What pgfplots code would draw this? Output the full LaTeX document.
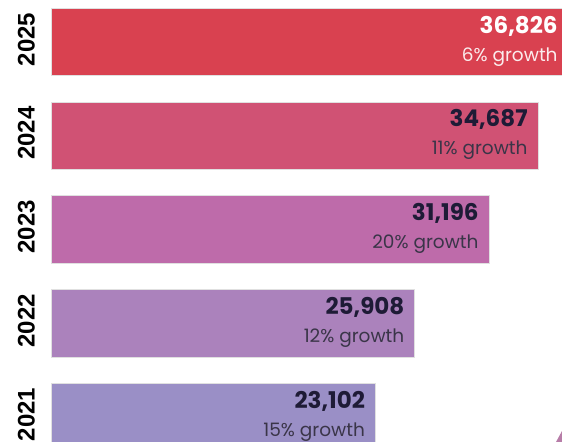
\documentclass[border=0pt]{standalone}
\usepackage{fontspec}
\setmainfont{Poppins}
\newfontfamily\yearfont{Liberation Sans}
\usepackage{pgfplots}
\pgfplotsset{compat=1.18}
\definecolor{cA}{HTML}{D94150}
\definecolor{cB}{HTML}{D05274}
\definecolor{cC}{HTML}{BE6BAA}
\definecolor{cD}{HTML}{AB82BC}
\definecolor{cE}{HTML}{9A8FC6}
\definecolor{txtdark}{HTML}{1E1B36}
\definecolor{txtgrow}{HTML}{3A3548}
\definecolor{deco}{HTML}{B77DA8}
\newcommand{\valfont}{\fontsize{23bp}{28bp}\selectfont\bfseries}
\newcommand{\growfont}{\fontsize{18.5bp}{28bp}\selectfont}
\begin{document}
\begin{tikzpicture}[x=1bp,y=1bp]
\begin{axis}[
  at={(51bp,0bp)}, anchor=south west,
  scale only axis, width=511bp, height=442bp,
  xmin=0, xmax=36400, ymin=-0.2667, ymax=4.448,
  clip=false,
  axis line style={draw=none},
  xtick=\empty,
  ytick={0,1,2,3,4},
  yticklabels={2021,2022,2023,2024,2025},
  major tick length=0pt,
  yticklabel style={rotate=90, xshift=2.5bp, anchor=south, inner sep=0pt, font=\yearfont\fontsize{24bp}{28bp}\selectfont\bfseries, text=black},
  yticklabel shift={16bp},
  xbar, bar width=0.72,
  /pgf/number format/1000 sep={,},
  /pgf/number format/assume math mode=true,
  every node near coord/.style={anchor=east, xshift=-10bp, yshift=1bp, align=right, inner sep=0pt, text=txtdark, font=\fontsize{18.5bp}{28bp}\selectfont},
]
\addplot[bar shift=0pt, fill=cE, draw=black!12, line width=0.8bp,
  nodes near coords={{\valfont\pgfmathprintnumber{\pgfplotspointmeta}}\\{\growfont\color{txtgrow}15\% growth}}]
  coordinates {(23102,0)};
\addplot[bar shift=0pt, fill=cD, draw=black!12, line width=0.8bp,
  nodes near coords={{\valfont\pgfmathprintnumber{\pgfplotspointmeta}}\\{\growfont\color{txtgrow}12\% growth}}]
  coordinates {(25908,1)};
\addplot[bar shift=0pt, fill=cC, draw=black!12, line width=0.8bp,
  nodes near coords={{\valfont\pgfmathprintnumber{\pgfplotspointmeta}}\\{\growfont\color{txtgrow}20\% growth}}]
  coordinates {(31196,2)};
\addplot[bar shift=0pt, fill=cB, draw=black!12, line width=0.8bp,
  nodes near coords={{\valfont\pgfmathprintnumber{\pgfplotspointmeta}}\\{\growfont\color{txtgrow}11\% growth}}]
  coordinates {(34687,3)};
\addplot[bar shift=0pt, fill=cA, draw=black!12, line width=0.8bp,
  nodes near coords={{\valfont\color{white}\pgfmathprintnumber{\pgfplotspointmeta}}\\{\growfont\color{white!90!cA}6\% growth}}]
  coordinates {(36826,4)};
\end{axis}
\fill[deco] (556,0) -- (562,11) -- (562,0) -- cycle;
\pgfresetboundingbox
\path[use as bounding box] (0,0) rectangle (562,442);
\end{tikzpicture}
\end{document}
